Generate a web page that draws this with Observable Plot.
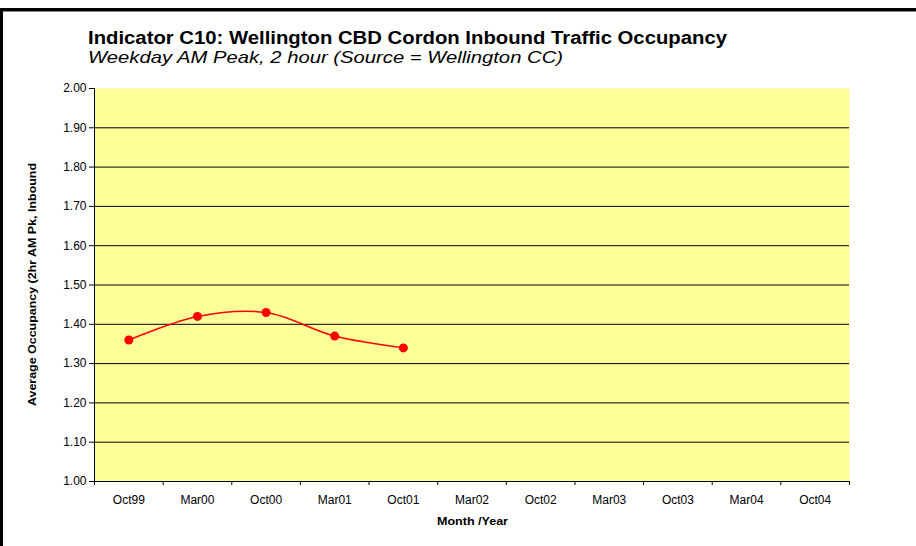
<!DOCTYPE html>
<html><head><meta charset="utf-8">
<script src="https://cdn.jsdelivr.net/npm/d3@7"></script>
<script src="https://cdn.jsdelivr.net/npm/@observablehq/plot@0.6"></script>
<style>
body{margin:0;background:#fff;}
#chart{position:relative;width:916px;height:546px;overflow:hidden;background:#fff}
</style></head><body><div id="chart"></div>
<script>
const title = "Indicator C10: Wellington CBD Cordon Inbound Traffic Occupancy";
const subtitle = "Weekday AM Peak, 2 hour (Source = Wellington CC)";
const yLabel = "Average Occupancy (2hr AM Pk, Inbound";
const xLabel = "Month /Year";
const categories = ["Oct99","Mar00","Oct00","Mar01","Oct01","Mar02","Oct02","Mar03","Oct03","Mar04","Oct04"];
const occupancy = [1.36, 1.42, 1.43, 1.37, 1.34];
const yTicks = [1.0,1.1,1.2,1.3,1.4,1.5,1.6,1.7,1.8,1.9,2.0];
const gridLines = [1.1,1.2,1.3,1.4,1.5,1.6,1.7,1.8,1.9];

const data = occupancy.map((v, i) => ({pos: i + 0.5, label: categories[i], value: v}));
const bandEdges = d3.range(categories.length + 1);
const bandCenters = d3.range(categories.length).map(i => i + 0.5);

const W = 916, H = 546;
const chart = Plot.plot({
  width: W, height: H,
  marginTop: 88, marginLeft: 94, marginRight: 67, marginBottom: 65,
  style: {fontFamily: "'Liberation Sans', Arial, sans-serif", background: "transparent", color: "#000"},
  x: {type: "linear", domain: [0, categories.length]},
  y: {domain: [1, 2]},
  marks: [
    Plot.frame({fill: "#FFFF99", stroke: "none"}),
    Plot.ruleY(gridLines, {stroke: "#000", strokeWidth: 1}),
    Plot.axisY({ticks: yTicks, tickFormat: d3.format(".2f"), tickSize: 5, tickPadding: 3, fontSize: 12, label: null}),
    Plot.axisX({ticks: bandEdges, tickFormat: () => "", tickSize: 4, label: null}),
    Plot.axisX({ticks: bandCenters, tickFormat: d => categories[Math.floor(d)], tickSize: 0, tickPadding: 14, fontSize: 12, label: null}),
    Plot.ruleX([0], {stroke: "#000"}),
    Plot.ruleY([1], {stroke: "#000"}),
    Plot.line(data, {x: "pos", y: "value", stroke: "#FF0000", strokeWidth: 1.5, curve: "catmull-rom"}),
    Plot.dot(data, {x: "pos", y: "value", r: 4.5, fill: "#FF0000", stroke: "none"})
  ]
});
document.getElementById("chart").appendChild(chart);

const svg = d3.select(chart);
const ff = "'Liberation Sans', Arial, sans-serif";
// frame lines
svg.append("rect").attr("x", 0).attr("y", 8).attr("width", W).attr("height", 3).attr("fill", "#000");
svg.append("rect").attr("x", 0).attr("y", 11).attr("width", W).attr("height", 1).attr("fill", "#888");
svg.append("rect").attr("x", 0).attr("y", 8).attr("width", 3).attr("height", H).attr("fill", "#000");
// titles
svg.append("text").attr("x", 88).attr("y", 44).attr("text-anchor", "start").attr("font-family", ff).attr("font-size", 17.5).attr("font-weight", "bold")
  .attr("textLength", 639).attr("lengthAdjust", "spacingAndGlyphs").text(title);
svg.append("text").attr("x", 88).attr("y", 63).attr("text-anchor", "start").attr("font-family", ff).attr("font-size", 16.5).attr("font-style", "italic")
  .attr("textLength", 475).attr("lengthAdjust", "spacingAndGlyphs").text(subtitle);
// axis labels
svg.append("text").attr("transform", "translate(36,284.5) rotate(-90)").attr("text-anchor", "middle")
  .attr("font-family", ff).attr("font-size", 11).attr("font-weight", "bold")
  .attr("textLength", 243).attr("lengthAdjust", "spacingAndGlyphs").text(yLabel);
svg.append("text").attr("x", 472.5).attr("y", 525).attr("text-anchor", "middle")
  .attr("font-family", ff).attr("font-size", 11.5).attr("font-weight", "bold")
  .attr("textLength", 71).attr("lengthAdjust", "spacingAndGlyphs").text(xLabel);
</script></body></html>
